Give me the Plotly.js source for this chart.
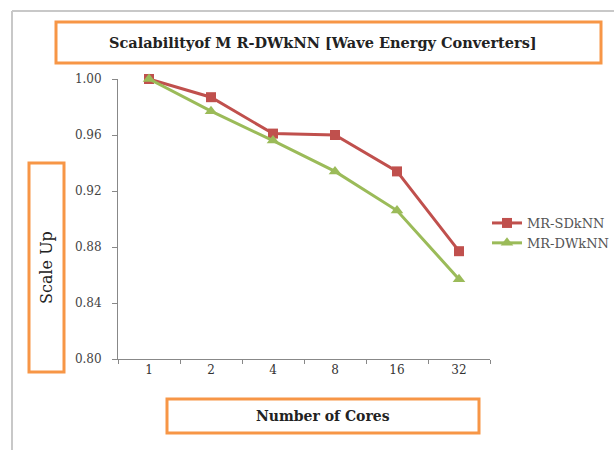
<!DOCTYPE html>
<html>
<head>
<meta charset="utf-8">
<script src="https://cdn.plot.ly/plotly-3.0.1.min.js"></script>
<style>html,body{margin:0;padding:0;background:#fff;}#chart{width:614px;height:450px;}</style>
</head>
<body>
<div id="chart"></div>
<script>
var cores = ["1", "2", "4", "8", "16", "32"];
var sdknn = [1.000, 0.987, 0.961, 0.960, 0.934, 0.877];
var dwknn = [1.000, 0.977, 0.956, 0.934, 0.906, 0.857];
var yTicks = [0.80, 0.84, 0.88, 0.92, 0.96, 1.00];

var L = 118, R = 490, T = 79, B = 359, W = 614, H = 450;
function px(x){ return (x - L) / (R - L); }
function py(y){ return (B - y) / (B - T); }
var orange = '#F79646';
var serif = 'DejaVu Serif';

var traces = [
  {x: cores, y: sdknn, name: 'MR-SDkNN', type: 'scatter', mode: 'lines+markers',
   line: {color: '#C0504D', width: 3}, marker: {symbol: 'square', size: 10, color: '#C0504D'}, cliponaxis: false},
  {x: cores, y: dwknn, name: 'MR-DWkNN', type: 'scatter', mode: 'lines+markers',
   line: {color: '#9BBB59', width: 3}, marker: {symbol: 'triangle-up', size: 11, color: '#9BBB59'}, cliponaxis: false}
];

function box(x0, y0, x1, y1){
  return {type: 'rect', xref: 'paper', yref: 'paper', x0: px(x0), x1: px(x1), y0: py(y1), y1: py(y0),
          line: {color: orange, width: 3}, fillcolor: 'rgba(0,0,0,0)', layer: 'above'};
}

var layout = {
  width: W, height: H,
  margin: {l: L, r: W - R, t: T, b: H - B, pad: 0, autoexpand: false},
  paper_bgcolor: '#fff', plot_bgcolor: '#fff',
  showlegend: true,
  legend: {x: px(487), y: py(208), xanchor: 'left', yanchor: 'top',
           font: {family: serif, size: 13, color: '#555'},
           bgcolor: 'rgba(0,0,0,0)', tracegroupgap: 4, borderwidth: 0},
  xaxis: {type: 'category', range: [-0.5, 5.5], tickson: 'boundaries', ticks: 'outside', ticklen: 4,
          tickcolor: '#888', showline: true, linecolor: '#888', linewidth: 1, showgrid: false, zeroline: false,
          tickfont: {family: serif, size: 12, color: '#333'}, fixedrange: true, automargin: false},
  yaxis: {range: [0.80, 1.00], tickvals: yTicks, tickformat: '.2f', ticks: 'outside', ticklen: 5,
          tickcolor: '#888', showline: true, linecolor: '#888', linewidth: 1, showgrid: false, zeroline: false,
          tickfont: {family: serif, size: 12, color: '#444'}, ticklabelstandoff: 8, fixedrange: true, automargin: false},
  shapes: [
    {type: 'line', xref: 'paper', yref: 'paper', x0: px(12), x1: px(614), y0: py(11), y1: py(11), line: {color: '#c8c8c8', width: 2}},
    {type: 'line', xref: 'paper', yref: 'paper', x0: px(12), x1: px(12), y0: py(11), y1: py(450), line: {color: '#c8c8c8', width: 2}},
    box(56, 22, 601, 63),
    box(29, 163, 64, 372),
    box(167, 399, 479, 433)
  ],
  annotations: [
    {xref: 'paper', yref: 'paper', x: px(323), y: py(42), showarrow: false, xanchor: 'center', yanchor: 'middle',
     text: '<b>Scalabilityof M R-DWkNN [Wave Energy Converters]</b>', font: {family: serif, size: 14.5, color: '#222'}},
    {xref: 'paper', yref: 'paper', x: px(46), y: py(268), showarrow: false, xanchor: 'center', yanchor: 'middle',
     text: 'Scale Up', textangle: -90, font: {family: serif, size: 16, color: '#222'}},
    {xref: 'paper', yref: 'paper', x: px(323), y: py(416), showarrow: false, xanchor: 'center', yanchor: 'middle',
     text: '<b>Number of Cores</b>', font: {family: serif, size: 14, color: '#222'}}
  ]
};

Plotly.newPlot('chart', traces, layout, {displayModeBar: false, staticPlot: true});
</script>
</body>
</html>
